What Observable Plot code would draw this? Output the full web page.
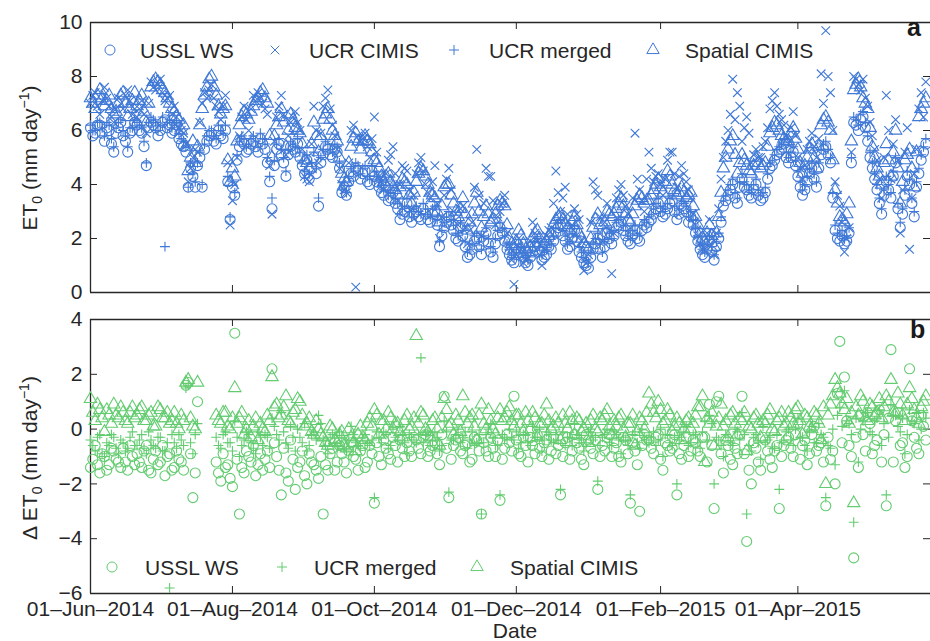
<!DOCTYPE html>
<html><head><meta charset="utf-8">
<script src="https://cdn.jsdelivr.net/npm/d3@7"></script>
<script src="https://cdn.jsdelivr.net/npm/@observablehq/plot@0.6"></script>
<style>
body{margin:0;background:#fff;}
#chart{width:930px;height:641px;overflow:hidden;}
#chart svg{display:block;}
</style></head><body><div id="chart"></div>
<script>
// ---------------- DATA ----------------
const startDate = "2014-06-01";
const endDate = "2015-05-28";
const evenDays = d3.range(0, 360, 2); // days since start: 0,2,4,...
const oddDays = d3.range(1, 360, 2);  // days since start: 1,3,5,...
const xTickDates = ["2014-06-01","2014-08-01","2014-10-01","2014-12-01","2015-02-01","2015-04-01"];
const yTicksA = [0,2,4,6,8,10];
const yTicksB = [-6,-4,-2,0,2,4];
const seriesA = ["USSL WS","UCR CIMIS","UCR merged","Spatial CIMIS"];
const seriesB = ["USSL WS","UCR merged","Spatial CIMIS"];

// Panel a: ET0 (mm/day) — even days
const usslA = [6.1,5.9,6.2,5.6,6.0,5.2,6.1,5.8,5.2,6.0, 6.2,5.9,4.7,6.3,6.1,6.0,6.4,6.2,6.0,5.7,
 5.4,3.9,4.3,4.7,3.9,5.6,5.9,5.5,5.8,6.0, 2.7,3.6,5.4,5.5,5.3,5.6,5.2,5.5,4.8,3.1,
 5.3,5.1,4.3,5.4,5.2,5.0,4.4,4.2,5.0,3.2, 5.1,5.3,5.0,5.2,3.7,3.6,4.4,4.6,4.2,4.5,
 4.0,4.3,3.9,3.6,3.4,3.7,3.1,2.9,3.3,2.6, 3.0,2.7,2.9,2.6,3.0,1.7,2.4,2.8,2.3,1.9,
 2.1,1.3,1.6,2.0,1.4,2.2,1.5,1.8,2.4,1.9, 1.4,1.1,1.6,1.3,1.0,1.5,1.8,1.2,1.4,1.6,
 2.2,2.5,1.9,1.7,2.3,1.5,1.1,0.9,1.6,2.0, 1.3,2.2,1.8,2.4,2.6,2.1,1.8,2.3,1.9,2.5,
 2.6,2.9,3.3,2.8,3.1,3.4,2.7,3.2,3.0,2.8, 2.2,1.6,1.3,1.9,1.2,2.0,3.2,3.6,4.0,3.3,
 4.2,3.8,3.5,4.0,3.4,3.7,4.6,4.9,5.2,5.5, 4.8,5.2,4.3,3.6,4.1,4.6,3.9,5.1,5.4,4.8,
 2.3,1.9,1.8,2.2,6.3,6.0,6.5,5.6,4.6,3.8, 2.9,4.1,3.5,4.8,2.4,3.6,4.0,2.8,4.4,5.2];
const ucrCimisA = [7.0,7.4,6.6,7.6,6.9,6.3,7.2,6.8,7.5,6.6, 6.5,7.1,5.9,7.8,7.5,7.9,7.1,7.3,6.9,6.1,
 5.9,4.1,5.0,5.2,7.0,7.2,7.7,6.9,6.4,7.3, 2.5,4.0,5.8,6.9,6.0,7.3,7.4,7.0,6.6,2.9,
 6.5,7.3,5.1,6.3,6.7,6.0,4.3,4.1,6.9,4.8, 6.9,7.5,6.2,5.3,4.0,3.7,6.0,0.2,5.6,5.9,
 5.0,6.5,4.3,3.8,4.9,5.4,3.4,4.7,4.5,3.1, 4.4,5.0,4.0,3.5,4.7,2.0,3.6,4.6,3.0,2.5,
 3.2,1.8,2.6,5.3,2.1,4.6,4.3,2.5,3.0,3.6, 1.7,0.3,2.0,1.1,1.3,2.6,1.9,1.0,2.1,2.4,
 4.5,3.0,3.9,2.0,3.1,2.7,0.8,1.4,4.1,3.6, 1.9,3.3,0.7,3.5,4.0,3.2,2.4,5.9,3.8,3.0,
 5.2,4.1,4.4,3.6,4.9,5.2,3.9,4.7,4.1,3.5, 2.5,1.8,1.6,2.7,1.4,3.1,5.0,6.0,7.9,7.4,
 5.6,6.5,4.8,5.3,5.0,5.6,6.8,7.4,6.6,6.2, 5.5,6.7,5.0,4.2,5.3,5.9,5.0,8.1,9.7,7.4,
 4.1,3.2,1.5,2.4,8.0,7.7,7.9,6.9,5.8,4.9, 3.5,7.3,4.2,6.4,2.2,5.2,1.6,4.4,6.8,6.5];
const ucrMergedA = [6.2,6.0,6.3,5.8,6.2,5.4,6.3,6.0,5.4,6.1, 6.3,6.1,4.8,6.5,6.3,6.2,1.7,6.4,6.2,5.9,
 5.6,3.9,4.4,4.8,4.0,5.8,6.0,5.7,6.0,6.2, 2.8,3.7,5.6,5.7,5.5,5.8,5.4,5.7,5.0,3.5,
 5.5,5.3,4.5,5.6,5.4,5.2,4.5,4.4,5.2,3.5, 5.3,5.5,5.2,5.4,3.8,3.7,4.6,4.8,4.4,4.7,
 4.2,4.5,4.1,3.8,3.6,3.9,3.3,3.1,3.5,2.8, 3.2,2.9,3.1,2.8,3.2,1.9,2.6,3.0,2.5,2.1,
 2.3,1.5,1.8,2.2,1.6,2.4,1.7,2.0,2.6,2.1, 1.6,1.3,1.8,1.5,1.2,1.7,2.0,1.4,1.6,1.8,
 2.4,2.7,2.1,1.9,2.5,1.7,1.3,1.1,1.8,2.2, 1.5,2.4,2.0,2.6,2.8,2.3,2.0,2.5,2.1,2.7,
 2.8,3.1,3.5,3.0,3.3,3.6,2.9,3.4,3.2,3.0, 2.4,1.8,1.5,2.1,1.4,2.2,3.4,3.8,4.2,3.5,
 4.4,4.0,3.7,4.2,3.6,3.9,4.8,5.1,5.4,5.7, 5.0,5.4,4.5,3.8,4.3,4.8,4.1,5.3,5.6,5.0,
 2.5,2.1,2.0,2.4,6.5,6.2,6.7,5.8,4.8,4.0, 3.1,4.3,3.7,5.0,2.6,3.8,4.2,3.0,4.6,5.4];
const spatialA = [7.2,6.8,7.5,6.9,7.3,6.6,7.0,7.4,6.5,7.1, 6.9,7.3,6.3,7.6,7.9,7.7,7.4,7.0,6.7,6.4,
 6.2,4.5,5.6,5.4,6.8,7.6,8.0,7.3,6.6,6.9, 4.1,4.3,6.2,6.7,6.4,6.9,7.2,7.5,7.0,5.0,
 6.2,6.8,5.4,6.6,6.1,5.9,4.9,4.6,6.3,5.2, 6.4,6.8,6.0,5.6,4.4,4.1,5.4,5.9,5.3,5.8,
 5.5,4.9,4.6,4.1,4.4,3.9,3.6,4.2,4.0,3.3, 4.1,4.6,4.3,3.7,3.5,2.6,3.9,4.0,3.3,2.8,
 3.5,2.3,2.9,3.7,2.4,3.2,2.6,2.9,3.4,3.2, 2.0,1.6,2.3,1.8,1.5,2.0,2.3,1.7,1.9,2.2,
 2.7,2.9,2.5,2.3,2.8,2.2,1.8,1.6,2.4,2.9, 2.1,3.0,2.8,3.1,3.5,2.9,2.6,3.2,3.6,3.3,
 3.4,3.8,4.2,3.7,4.5,4.0,3.6,3.9,3.5,3.7, 2.8,2.2,1.9,2.5,1.7,2.8,4.6,5.3,5.8,4.4,
 5.1,4.7,4.4,5.0,4.6,4.8,5.9,6.3,6.0,5.7, 5.6,6.1,5.3,4.4,5.0,5.5,4.6,6.2,6.5,6.0,
 3.8,2.8,2.6,3.3,7.5,7.9,7.2,6.8,5.4,4.6, 4.0,5.5,4.3,6.0,3.3,4.9,5.3,3.9,6.5,7.0];

// Panel a: ET0 (mm/day) — odd days
const usslAOdd = [5.8,6.2,5.9,6.1,5.5,5.9,6.3,5.6,5.9,6.3, 6.0,5.4,6.1,6.2,5.8,6.3,6.1,5.9,6.2,5.5,
 5.2,4.6,3.9,5.0,5.3,5.8,5.6,6.0,5.7,4.1, 3.9,4.9,5.6,5.2,5.5,5.4,5.7,5.3,4.1,4.7,
 5.5,4.8,5.1,5.3,5.5,4.7,4.9,4.6,4.4,4.8, 5.4,5.1,5.3,4.6,3.9,4.1,4.3,4.5,4.4,4.1,
 4.5,4.1,3.7,3.9,3.5,3.3,2.7,3.0,2.8,2.9, 2.8,3.1,2.7,2.9,2.5,2.1,2.6,2.5,2.0,2.4,
 1.7,1.4,1.9,1.7,1.9,1.8,1.3,2.1,2.2,1.6, 1.2,1.4,1.5,1.1,1.3,1.7,1.5,1.3,1.7,1.9,
 2.4,2.1,1.6,2.0,1.9,1.3,1.0,1.3,1.8,1.6, 1.7,2.0,2.1,2.5,2.3,1.9,2.1,2.0,2.3,2.4,
 2.7,3.1,3.0,2.9,3.3,3.0,2.9,3.1,2.6,2.5, 1.9,1.4,1.6,1.5,1.7,2.6,3.4,3.8,3.5,3.9,
 3.9,3.6,3.8,3.6,3.5,4.2,4.7,5.1,5.3,5.0, 5.0,4.7,3.9,3.8,4.4,4.2,4.6,5.3,5.1,3.5,
 2.0,2.1,1.9,4.8,6.2,6.4,6.1,5.0,4.2,3.3, 3.6,3.8,4.3,3.1,2.9,4.3,3.3,3.9,4.9,5.5];
const ucrCimisAOdd = [7.3,6.9,7.1,7.2,6.5,6.8,7.0,7.3,7.1,6.8, 6.8,6.6,7.0,7.6,7.7,7.4,7.2,6.6,6.5,6.0,
 5.5,4.6,5.3,6.3,7.4,7.5,7.2,6.7,6.9,4.8, 3.4,5.0,6.5,6.4,6.8,7.1,7.2,6.8,4.7,5.6,
 6.9,6.6,5.8,6.5,6.3,5.3,4.2,5.5,6.0,5.9, 7.2,6.8,5.8,4.6,3.8,4.8,6.2,5.8,5.7,5.4,
 5.7,5.2,4.1,4.4,5.1,4.4,4.0,4.6,3.8,3.6, 4.8,4.5,3.7,4.1,3.3,2.8,4.2,3.8,2.7,3.1,
 2.4,2.3,3.9,3.6,3.3,4.3,3.4,2.8,3.3,2.2, 1.2,1.4,1.6,1.2,1.9,2.2,1.4,1.6,2.3,3.3,
 3.7,3.5,2.9,2.5,2.9,1.9,1.1,2.6,3.8,2.8, 2.6,2.3,2.2,3.8,3.6,2.9,3.5,4.2,3.4,4.2,
 4.6,4.3,4.0,4.2,5.2,4.4,4.3,4.4,3.8,2.9, 2.1,1.6,2.2,2.0,2.2,4.2,5.6,6.6,6.4,6.9,
 6.1,5.9,5.1,5.0,5.4,6.1,7.1,6.9,6.4,5.8, 6.1,5.8,4.6,4.7,5.6,5.4,5.7,7.0,8.0,6.0,
 3.6,2.6,2.0,5.2,7.9,7.5,7.2,6.3,5.3,4.2, 5.0,6.0,5.5,4.9,3.8,6.1,3.5,5.3,7.4,7.8];
const ucrMergedAOdd = [6.0,6.3,6.1,6.3,5.7,6.1,6.4,5.8,6.1,6.4, 6.2,5.6,6.3,6.4,6.0,6.5,6.3,6.1,6.3,5.7,
 5.4,4.8,4.1,5.2,5.5,6.0,5.8,6.2,5.9,4.3, 4.1,5.1,5.8,5.4,5.7,5.6,5.9,5.5,4.3,4.9,
 5.7,5.0,5.3,5.5,5.7,4.9,5.1,4.8,4.6,5.0, 5.6,5.3,5.5,4.8,4.1,4.3,4.5,4.7,4.6,4.3,
 4.7,4.3,3.9,4.1,3.7,3.5,2.9,3.2,3.0,3.1, 3.0,3.3,2.9,3.1,2.7,2.3,2.8,2.7,2.2,2.6,
 1.9,1.6,2.1,1.9,2.1,2.0,1.5,2.3,2.4,1.8, 1.4,1.6,1.7,1.3,1.5,1.9,1.7,1.5,1.9,2.1,
 2.6,2.3,1.8,2.2,2.1,1.5,1.2,1.5,2.0,1.8, 1.9,2.2,2.3,2.7,2.5,2.1,2.3,2.2,2.5,2.6,
 2.9,3.3,3.2,3.1,3.5,3.2,3.1,3.3,2.8,2.7, 2.1,1.6,1.8,1.7,1.9,2.8,3.6,4.0,3.7,4.1,
 4.1,3.8,4.0,3.8,3.7,4.4,4.9,5.3,5.5,5.2, 5.2,4.9,4.1,4.0,4.6,4.4,4.8,5.5,5.3,3.7,
 2.2,2.3,2.1,5.0,6.4,6.6,6.3,5.2,4.4,3.5, 3.8,4.0,4.5,3.3,3.1,4.5,3.5,4.1,5.1,5.7];
const spatialAOdd = [7.0,7.3,7.2,7.1,6.8,6.7,7.3,7.0,6.8,7.4, 7.1,6.7,7.0,7.8,7.8,7.5,7.2,6.8,6.5,6.0,
 5.4,5.0,4.8,6.2,7.3,7.9,7.6,6.9,6.8,4.9, 4.6,5.6,6.5,6.6,6.7,7.1,7.4,7.2,5.8,5.8,
 6.5,6.3,6.0,6.4,6.0,5.5,4.8,5.5,5.8,5.8, 6.6,6.4,5.8,5.0,4.2,4.8,5.7,5.6,5.6,5.6,
 5.2,4.8,4.3,4.3,4.1,3.8,3.9,4.1,3.6,3.7, 4.4,4.5,4.0,3.6,3.0,3.2,4.0,3.6,3.0,3.1,
 2.9,2.6,3.3,3.0,2.8,2.9,2.7,3.2,3.3,2.5, 1.8,1.9,2.1,1.6,1.7,2.2,2.0,1.8,2.1,2.5,
 2.8,2.7,2.4,2.6,2.5,2.0,1.7,2.0,2.7,2.5, 2.6,2.9,2.9,3.3,3.2,2.7,2.9,3.4,3.5,3.4,
 3.6,4.0,3.9,4.1,4.3,3.8,3.7,3.7,3.6,3.2, 2.5,2.0,2.2,2.1,2.2,3.7,5.0,5.6,5.1,4.8,
 4.9,4.5,4.7,4.8,4.7,5.4,6.1,6.2,5.8,5.6, 5.9,5.7,4.8,4.7,5.3,5.0,5.4,6.4,6.3,4.9,
 3.3,2.7,2.9,5.6,7.7,7.6,7.0,6.1,5.0,4.3, 4.8,4.9,5.2,4.6,4.1,5.1,4.6,5.2,6.8,7.2];

// Panel b: delta ET0 (mm/day) — even days
const usslB = [-1.4,-0.6,-1.6,-1.0,-1.3,-0.8,-1.2,-0.7,-1.5,-1.0, -0.9,-1.4,-0.6,-1.6,-0.8,-1.2,-1.7,-0.9,-1.4,-1.1,
 -1.5,1.7,-2.5,1.0,null,null,null,-1.2,-1.9,-1.4, -1.8,3.5,-3.1,-1.6,-1.0,-0.6,-1.3,-1.5,-0.8,2.2,
 -1.0,-2.4,-1.6,-0.4,-2.2,-1.2,-1.7,-0.9,-1.3,-1.8, -3.1,-1.5,-0.7,-1.2,-0.9,-1.6,-0.5,-1.1,-0.8,-1.4,
 -0.6,-2.7,-1.0,-0.4,-0.9,-0.3,-1.2,-0.7,-0.5,-1.0, -0.4,-0.9,-0.2,-0.8,-0.5,-1.3,1.2,-2.5,-0.6,-0.3,
 -0.9,-0.5,-1.1,-0.4,-3.1,-0.8,-0.3,-1.0,-2.6,-0.7, -0.5,1.2,-0.9,-0.3,-1.2,-0.6,-0.2,-1.0,-0.4,-0.8,
 -0.9,-2.4,-0.5,-1.1,-0.2,-0.7,-1.3,-0.4,-0.9,-2.2, -0.6,-0.3,-1.0,-0.5,-1.2,-0.4,-2.7,-0.8,-3.0,-0.2,
 -0.4,-0.9,-0.2,-1.5,-0.6,-0.7,-2.4,-1.1,-0.3,-0.8, -0.5,-1.0,-0.3,0.9,-2.9,1.2,-1.6,-0.6,-1.3,-0.9,
 1.2,-4.1,-2.0,-0.7,-1.5,-0.4,-1.1,-0.8,-2.9,-0.6, -0.3,-1.0,0.2,-0.6,-1.3,-0.2,-0.8,-0.5,-2.8,-1.1,
 -2.0,3.2,1.9,-0.6,-4.7,-1.4,-0.2,0.6,-0.9,-0.4, -1.2,-2.8,2.9,0.3,-0.6,-1.4,2.2,-0.3,-0.9,0.1];
const ucrMergedB = [-0.4,-0.8,-0.2,-1.0,-0.6,-0.3,-0.9,-0.5,-0.7,-0.1, -0.6,-0.2,-0.9,-0.4,-0.7,-0.3,-0.8,-5.8,-0.5,-0.2,
 -0.6,1.6,-0.9,0.2,null,null,null,-0.3,-0.7,-0.1, -0.5,0.3,-1.0,-0.4,-0.2,-0.7,-0.1,-0.6,-0.3,0.4,
 -0.2,0.6,-0.5,0.1,-0.8,-0.3,0.2,-0.6,-0.1,0.5, -0.4,-0.9,-0.2,-0.6,-0.3,-0.8,0.1,-0.5,-0.7,-0.2,
 -0.6,-2.5,-0.3,-0.1,-0.7,0.0,-0.4,-0.2,-0.9,-0.3, -0.5,2.6,-0.2,-0.6,-0.1,-0.8,0.3,-2.3,-0.4,0.0,
 -0.3,-0.7,-0.1,-0.5,-3.1,-0.2,0.2,-0.6,-2.4,-0.3, 0.0,-0.4,-0.7,-0.2,-0.5,0.1,-0.3,-0.8,-0.1,-0.4,
 -0.2,-2.2,-0.6,-0.3,0.2,-0.5,-0.8,-0.1,-0.4,-1.9, -0.3,0.0,-0.6,-0.2,-0.9,-0.4,-2.4,-0.1,-0.7,-0.3,
 -0.5,-0.1,-0.4,-1.0,-0.2,-0.6,-2.0,-0.3,0.1,-0.5, -0.2,-0.7,0.3,0.5,-2.0,-0.4,-1.0,-0.3,-0.6,-0.1,
 0.6,-3.1,-0.8,-0.2,-1.1,-0.5,-0.3,-0.7,-2.2,-0.4, 0.0,-0.6,0.4,-0.3,-0.8,0.1,-0.5,-0.2,-2.5,-0.7,
 -1.3,0.8,1.4,0.2,-3.4,-1.2,0.3,0.6,-0.2,0.4, -0.6,-2.4,0.9,0.5,-0.1,-0.9,0.7,0.2,-0.4,0.6];
const spatialB = [1.1,0.3,0.7,-0.1,0.5,0.9,0.4,0.6,0.2,0.8, 0.5,0.8,0.3,0.6,0.1,0.7,0.4,0.2,0.6,0.0,
 0.3,1.8,0.1,1.7,null,null,null,0.5,0.2,0.6, 0.0,1.5,0.4,-0.2,0.3,0.1,-0.4,0.0,0.5,1.9,
 0.9,0.5,1.2,0.2,0.7,1.0,0.1,0.4,-0.2,0.0, -0.3,-0.6,0.0,-0.5,-0.1,-0.7,-0.3,-0.8,0.1,-0.4,
 0.4,0.7,-0.2,0.3,0.6,0.0,0.2,-0.3,0.5,0.1, 3.4,0.6,0.0,-0.3,0.4,-0.6,1.1,0.1,-0.2,0.3,
 1.2,0.2,0.5,-0.4,0.9,0.0,0.3,-0.2,0.7,0.4, 0.8,0.1,0.5,-0.1,0.3,0.6,-0.3,0.2,0.9,0.0,
 0.4,-0.4,0.2,0.6,-0.2,0.3,0.0,-0.5,0.5,-0.1, 0.3,0.7,-0.2,0.1,0.5,-0.3,0.2,-0.6,0.4,0.0,
 1.3,0.6,1.0,0.2,0.7,-0.1,0.4,-0.4,0.3,0.0, 0.5,0.8,-1.2,0.2,-0.6,0.4,0.1,-0.3,0.6,-0.2,
 0.3,-0.8,0.0,0.5,-0.3,0.2,0.7,-0.1,0.4,0.1, 0.6,0.2,0.8,-0.2,0.4,0.0,0.5,-0.4,-2.0,0.9,
 1.8,1.3,0.7,0.2,-2.7,0.5,1.0,0.3,0.8,0.6, 0.4,1.2,1.8,0.6,0.9,0.3,1.5,0.7,0.2,1.0];

// Panel b: delta ET0 (mm/day) — odd days
const usslBOdd = [-1.1,-1.3,-0.9,-1.5,-0.7,-1.1,-1.4,-1.2,-0.6,-1.3, -1.2,-0.8,-1.5,-1.1,-1.3,-0.6,-1.0,-1.5,-0.8,-1.2,
 1.6,-0.9,-1.6,null,null,null,null,-1.6,-0.9,-1.3, -2.1,-1.1,-1.4,-0.8,-1.2,-1.7,-0.9,-1.1,-1.4,-0.5,
 -1.5,-0.7,-1.9,-1.1,-1.4,-0.8,-2.0,-1.2,-1.5,-1.0, -1.3,-0.9,-1.5,-0.6,-1.2,-0.8,-1.0,-1.5,-0.6,-1.2,
 -0.9,-0.5,-1.3,-0.7,-1.1,-0.6,-0.4,-1.0,-0.8,-0.3, -0.7,-0.3,-1.0,-0.6,-0.9,-0.2,-0.7,-1.1,-0.4,-0.8,
 -0.6,-1.2,-0.3,-0.8,-0.5,-1.0,-0.7,-0.4,-1.1,-0.2, -0.8,-0.4,-1.0,-0.6,-0.3,-0.9,-0.7,-0.5,-1.1,-0.3,
 -0.6,-1.0,-0.3,-0.8,-0.5,-1.1,-0.2,-0.7,-0.4,-1.0, -0.8,-0.2,-0.7,-1.0,-0.3,-0.9,-0.5,-1.3,-0.6,-0.4,
 -0.7,-0.3,-1.1,-0.5,-0.8,-0.2,-0.9,-0.6,-1.0,-0.4, -0.8,-0.3,-1.2,-0.6,1.0,-0.9,-0.4,-1.1,-0.7,-0.2,
 -0.9,-1.5,-0.5,-1.2,-0.3,-0.8,-1.4,-0.6,-1.0,-0.4, -0.7,-0.2,-1.1,-0.4,-0.9,0.1,-0.6,-1.2,-0.3,-0.8,
 1.3,-0.5,0.3,-1.0,-0.3,0.5,-0.8,0.2,-0.6,0.7, -0.2,0.4,-1.2,0.6,-0.5,-1.0,0.3,-0.7,0.5,-0.4];
const ucrMergedBOdd = [-0.6,-0.3,-0.9,-0.5,-0.2,-0.7,-0.4,-0.8,-0.3,-0.6, -0.4,-0.7,-0.1,-0.6,-0.3,-0.8,-0.5,-0.2,-0.7,-0.4,
 1.5,-0.5,-0.2,null,null,null,null,-0.6,-0.2,-0.5, -0.8,-0.3,-0.6,-0.1,-0.5,-0.9,-0.3,-0.2,-0.7,0.1,
 -0.4,-0.1,-0.7,-0.3,0.0,-0.5,-0.8,-0.2,-0.4,0.2, -0.6,-0.3,-0.5,-0.1,-0.7,-0.4,-0.2,-0.6,-0.3,-0.5,
 -0.4,-0.1,-0.5,-0.2,-0.6,-0.3,0.1,-0.5,-0.2,-0.4, -0.2,-0.5,-0.1,-0.4,-0.3,-0.6,-0.1,-0.4,-0.2,-0.5,
 -0.1,-0.4,-0.6,-0.2,-0.5,0.0,-0.3,-0.6,-0.2,-0.4, -0.3,-0.1,-0.5,-0.2,-0.6,-0.3,0.0,-0.4,-0.2,-0.5,
 -0.4,-0.1,-0.3,-0.6,-0.2,-0.4,-0.5,0.0,-0.3,-0.6, -0.2,-0.5,-0.1,-0.4,-0.3,-0.6,-0.2,-0.5,0.0,-0.4,
 -0.3,-0.6,0.0,-0.2,-0.5,-0.3,-0.4,-0.1,-0.6,-0.2, -0.5,-0.1,-0.4,0.2,-0.3,-0.6,-0.2,-0.5,0.0,-0.4,
 -0.2,-0.6,-0.3,-0.5,0.1,-0.4,-0.7,-0.2,-0.5,-0.1, -0.4,0.0,-0.3,-0.6,-0.1,-0.5,0.2,-0.3,-0.6,0.0,
 0.5,0.1,0.3,-0.2,0.4,0.0,0.6,-0.1,0.3,0.7, 0.2,-0.3,0.5,0.1,0.4,-0.2,0.3,0.6,0.0,0.4];
const spatialBOdd = [0.6,0.9,0.4,0.7,0.2,0.5,0.8,0.3,0.6,0.4, 0.7,0.3,0.5,0.1,0.8,0.4,0.6,0.3,0.2,0.5,
 1.7,0.4,0.0,null,null,null,null,0.3,0.6,0.1, 0.4,0.2,0.6,0.0,-0.3,0.4,0.2,-0.1,0.3,0.8,
 0.4,0.8,0.3,0.6,1.1,0.5,0.2,-0.1,0.3,-0.2, -0.5,0.1,-0.4,-0.2,-0.6,0.0,-0.5,-0.2,-0.3,0.2,
 0.1,0.5,0.3,0.0,0.4,0.2,-0.1,0.3,0.0,0.4, 0.2,0.5,-0.1,0.3,0.0,0.4,0.7,0.2,0.5,-0.1,
 0.6,0.4,0.1,0.5,0.2,0.7,0.0,0.4,0.3,0.6, 0.3,0.5,0.2,0.6,0.0,0.4,0.2,0.5,0.3,0.1,
 0.2,0.5,0.0,0.3,0.4,-0.1,0.2,0.3,0.0,0.4, 0.5,0.1,0.3,0.4,0.0,0.2,0.5,-0.1,0.3,0.6,
 0.9,0.4,0.7,0.3,0.5,0.1,0.2,0.0,0.4,0.2, 0.8,1.2,0.4,0.6,0.1,0.9,0.3,0.5,0.2,0.4,
 0.6,0.1,0.4,0.2,0.3,0.5,0.0,0.3,0.6,0.2, 0.4,0.7,0.3,0.5,0.1,0.6,0.2,0.8,0.5,1.2,
 1.5,0.9,1.1,0.6,0.8,1.2,0.4,0.9,0.5,1.1, 0.8,1.0,0.6,1.3,0.5,0.9,1.1,0.4,0.8,1.2];

// ---------------- DRAWING ----------------
const FONT = '"Liberation Sans", Arial, Helvetica, sans-serif';
const INK = "#262626";
const BLUE = "#3f78d6";
const GREEN = "#63cc70";
const W = 930, ML = 90;
const DAY = 864e5;
const t0 = new Date(startDate + "T00:00Z");
const xDomain = [t0, new Date(endDate + "T00:00Z")];
const xTicks = xTickDates.map(s => new Date(s + "T00:00Z"));

const symSpec = {
  circle: {sym: "circle", r: 5, d3: d3.symbolCircle},
  times: {sym: "times", r: 4, d3: d3.symbolTimes},
  plus: {sym: "plus", r: 3.3, d3: d3.symbolPlus},
  triangle: {sym: "triangle", r: 4.6, d3: d3.symbolTriangle}
};

function rows(evenVals, oddVals) {
  const out = [];
  evenDays.forEach((d, i) => { if (evenVals[i] != null) out.push({date: new Date(+t0 + d * DAY), v: evenVals[i]}); });
  oddDays.forEach((d, i) => { if (oddVals[i] != null) out.push({date: new Date(+t0 + d * DAY), v: oddVals[i]}); });
  return out;
}
function dots(evenVals, oddVals, key, color) {
  const s = symSpec[key];
  return Plot.dot(rows(evenVals, oddVals), {x: "date", y: "v", symbol: s.sym, r: s.r, stroke: color, fill: "none", strokeWidth: 1.1});
}
function frameMarks(yTicks, yMin, yMax, plotH) {
  return [
    Plot.ruleY([yMin, yMax], {stroke: INK, strokeWidth: 1.3}),
    Plot.ruleX([xDomain[0]], {stroke: INK, strokeWidth: 1.3}),
    Plot.tickY(yTicks, {y: d => d, insetRight: W - ML - 7, stroke: INK}),
    Plot.tickY(yTicks, {y: d => d, insetLeft: W - ML - 7, stroke: INK}),
    Plot.tickX(xTicks, {x: d => d, insetBottom: plotH - 7, stroke: INK}),
    Plot.tickX(xTicks, {x: d => d, insetTop: plotH - 7, stroke: INK}),
    Plot.axisY(yTicks, {tickSize: 0, tickPadding: 8, fontSize: 21, fill: INK, label: null})
  ];
}

function addYLabel(svg, cy, delta) {
  const t = d3.select(svg).append("text")
    .attr("transform", `translate(37,${cy}) rotate(-90)`)
    .attr("text-anchor", "middle")
    .attr("font-family", FONT).attr("font-size", 21).attr("fill", INK);
  t.append("tspan").text((delta ? "\u0394 " : "") + "ET");
  t.append("tspan").attr("font-size", 14).attr("dy", 5).text("0");
  t.append("tspan").attr("dy", -5).text(" (mm day");
  t.append("tspan").attr("font-size", 14).attr("dy", -8).text("\u22121");
  t.append("tspan").attr("dy", 8).text(")");
}
function addLegend(svg, items, y, color) {
  const g = d3.select(svg).append("g");
  items.forEach(it => {
    const s = symSpec[it.key];
    g.append("path")
      .attr("d", d3.symbol(s.d3, Math.PI * s.r * s.r)())
      .attr("transform", `translate(${it.sx},${y})`)
      .attr("fill", "none").attr("stroke", color).attr("stroke-width", 1);
    g.append("text").attr("x", it.tx).attr("y", y + 8)
      .attr("text-anchor", "start")
      .attr("font-family", FONT).attr("font-size", 21).attr("fill", INK)
      .text(it.label);
  });
}
function addPanelLetter(svg, letter, x, y) {
  d3.select(svg).append("text").attr("x", x).attr("y", y)
    .attr("text-anchor", "start")
    .attr("font-family", FONT).attr("font-size", 25).attr("font-weight", "bold")
    .attr("fill", "#1a1a1a").text(letter);
}

const style = {fontFamily: FONT, fontSize: "21px", color: INK, background: "transparent", overflow: "visible"};

// Panel a
const plotA = Plot.plot({
  width: W, height: 300, marginLeft: ML, marginRight: 0, marginTop: 22, marginBottom: 8,
  style,
  x: {type: "utc", domain: xDomain, axis: null},
  y: {domain: [0, 10], axis: null},
  marks: [
    ...frameMarks(yTicksA, 0, 10, 270),
    dots(usslA, usslAOdd, "circle", BLUE),
    dots(ucrCimisA, ucrCimisAOdd, "times", BLUE),
    dots(ucrMergedA, ucrMergedAOdd, "plus", BLUE),
    dots(spatialA, spatialAOdd, "triangle", BLUE)
  ]
});
addYLabel(plotA, 158, false);
addLegend(plotA, [
  {key: "circle", sx: 110, tx: 140, label: seriesA[0]},
  {key: "times", sx: 275, tx: 309, label: seriesA[1]},
  {key: "plus", sx: 454, tx: 489, label: seriesA[2]},
  {key: "triangle", sx: 653, tx: 685, label: seriesA[3]}
], 50, BLUE);
addPanelLetter(plotA, "a", 907, 36);

// Panel b
const plotB = Plot.plot({
  width: W, height: 341, marginLeft: ML, marginRight: 0, marginTop: 19, marginBottom: 48,
  style,
  x: {type: "utc", domain: xDomain},
  y: {domain: [-6, 4], axis: null},
  marks: [
    ...frameMarks(yTicksB, -6, 4, 274),
    Plot.axisX(xTicks, {tickSize: 0, tickPadding: 8, fontSize: 21, fill: INK, label: null,
      tickFormat: d3.utcFormat("%d\u2013%b\u2013%Y")}),
    dots(usslB, usslBOdd, "circle", GREEN),
    dots(ucrMergedB, ucrMergedBOdd, "plus", GREEN),
    dots(spatialB, spatialBOdd, "triangle", GREEN)
  ]
});
addYLabel(plotB, 158, true);
addLegend(plotB, [
  {key: "circle", sx: 112, tx: 145, label: seriesB[0]},
  {key: "plus", sx: 282, tx: 314, label: seriesB[1]},
  {key: "triangle", sx: 477, tx: 510, label: seriesB[2]}
], 267, GREEN);
addPanelLetter(plotB, "b", 910, 38);
d3.select(plotB).append("text").attr("x", 515).attr("y", 338).attr("text-anchor", "middle")
  .attr("font-family", FONT).attr("font-size", 21).attr("fill", INK).text("Date");

document.getElementById("chart").append(plotA, plotB);
</script>
</body></html>
